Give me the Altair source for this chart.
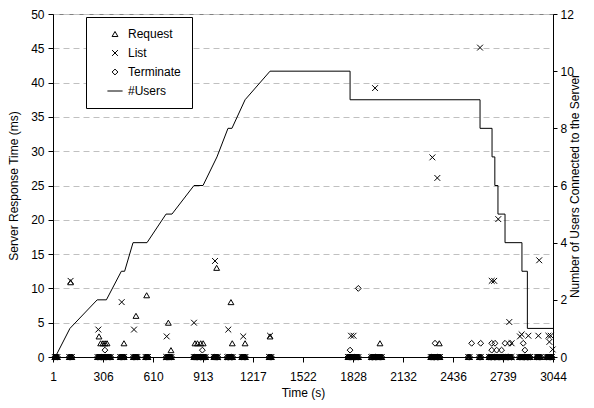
import altair as alt
import pandas as pd

FONT = "Liberation Sans"

# x axis tick labels
x_ticks = [1, 306, 610, 913, 1217, 1522, 1828, 2132, 2436, 2739, 3044]

# response times that sit on the zero line (all three request types)
zero_t = [12, 20, 28, 100, 108, 116, 272, 280, 288, 296, 304, 312, 320, 328,
          336, 344, 352, 410, 418, 426, 434, 490, 498, 506, 514, 565, 572,
          579, 690, 698, 706, 714, 722, 858, 866, 874, 882, 890, 898, 906,
          914, 922, 930, 980, 988, 996, 1004, 1062, 1070, 1078, 1086, 1094,
          1150, 1158, 1166, 1172, 1316, 1324, 1330, 1796, 1804, 1812, 1820,
          1828, 1836, 1844, 1852, 1860, 1938, 1946, 1954, 1962, 1970, 1978,
          1986, 1994, 2002, 2300, 2308, 2316, 2324, 2332, 2340, 2348, 2356,
          2528, 2536, 2596, 2604, 2655, 2663, 2671, 2679, 2687, 2695, 2703,
          2711, 2719, 2727, 2735, 2743, 2751, 2759, 2767, 2775, 2783, 2791,
          2840, 2848, 2856, 2864, 2872, 2880, 2888, 2896, 2904, 2945, 2953,
          2961, 2969, 3005, 3013, 3021, 3029, 3037]

# Request (ms)
req_t = [108, 281, 291, 305, 318, 330, 433, 506, 571, 703, 719, 865, 880,
         900, 915, 997, 1084, 1092, 1170, 1322, 1991, 2352]
req_v = [10.9, 3, 2, 2, 2, 2, 2, 6, 9, 5, 1, 2, 2, 2, 2, 13, 8, 2, 2, 3, 2, 2]

# List (ms)
list_t = [108, 277, 419, 494, 693, 859, 987, 1068, 1159, 1322, 1815, 1830,
          1961, 2310, 2340, 2600, 2671, 2686, 2711, 2778, 2792, 2843, 2853,
          2894, 2955, 2960, 3016, 3030, 3022, 3042]
list_v = [11.1, 4, 8, 4, 3, 5, 14, 4, 3, 3.1, 3.1, 3.1, 39.2, 29.1, 26.1, 45.1,
          11.1, 11.1, 20.1, 5.1, 2, 3, 3.3, 3.1, 3.1, 14.1, 3.1, 3.1, 2.2, 1.1]

# Terminate (ms)
term_t = [317, 910, 1809, 1859, 2326, 2549, 2604, 2671, 2691, 2671, 2701,
          2731, 2752, 2782, 2863, 2873]
term_v = [1, 1, 1, 10, 2, 2, 2, 2, 2, 1, 1, 1, 2, 2, 2, 1]

# #Users connected to the server
users_t = [15, 104, 270, 326, 417, 437, 488, 573, 689, 725, 859, 914, 999,
           1066, 1090, 1170, 1322, 1809, 1809, 2600, 2600, 2673, 2673, 2690,
           2690, 2709, 2709, 2752, 2752, 2855, 2855, 2888, 2888, 3044]
users_n = [0, 1, 2, 2, 3, 3, 4, 4, 5, 5, 6, 6, 7, 8, 8, 9, 10, 10, 9, 9, 8,
           8, 7, 7, 6, 6, 5, 5, 4, 4, 3, 3, 1, 1]

series_names = ["Request", "List", "Terminate", "#Users"]
series_shapes = ["triangle-up", "M-1,-1L1,1M-1,1L1,-1", "diamond", "M-2.6,0L2.6,0"]

rows = []
for name, ts, vs in [("Request", req_t, req_v), ("List", list_t, list_v),
                     ("Terminate", term_t, term_v)]:
    for t in zero_t:
        rows.append({"t": t, "v": 0, "series": name})
    for t, v in zip(ts, vs):
        rows.append({"t": t, "v": v, "series": name})
pts = pd.DataFrame(rows)

users = pd.DataFrame({"t": users_t, "n": users_n, "i": list(range(len(users_t)))})

xscale = alt.Scale(domain=[1, 3044], nice=False, zero=False)

points = alt.Chart(pts).mark_point(filled=False, color="black", strokeWidth=1,
                                   size=34, opacity=1).encode(
    x=alt.X("t:Q", scale=xscale,
            axis=alt.Axis(values=x_ticks, format="d", title="Time (s)",
                          labelFlush=False, tickSize=5, labelPadding=9,
                          titlePadding=5, grid=False, domainColor="black",
                          tickColor="black")),
    y=alt.Y("v:Q", scale=alt.Scale(domain=[0, 50], nice=False),
            axis=alt.Axis(values=list(range(0, 55, 5)),
                          title="Server Response Time (ms)", grid=True,
                          gridDash=[6, 4], gridColor="#c0c0c0",
                          tickSize=5, labelPadding=4, titlePadding=10,
                          domainColor="black", tickColor="black")),
    shape=alt.Shape("series:N",
                    scale=alt.Scale(domain=series_names, range=series_shapes),
                    legend=alt.Legend(title=None, orient="none", legendX=33,
                                      legendY=3, strokeColor="black",
                                      fillColor="white", padding=11,
                                      symbolSize=34, symbolStrokeColor="black",
                                      symbolStrokeWidth=1,
                                      symbolFillColor="transparent",
                                      symbolOffset=12, labelOffset=7,
                                      labelFontSize=12, labelFont=FONT,
                                      labelColor="black", rowPadding=7,
                                      cornerRadius=0)),
)

line = alt.Chart(users).mark_line(color="black", strokeWidth=1).encode(
    x=alt.X("t:Q", scale=xscale),
    y=alt.Y("n:Q", scale=alt.Scale(domain=[0, 12], nice=False),
            axis=alt.Axis(orient="right", values=list(range(0, 13, 2)),
                          title="Number of Users Connected to the Server",
                          titleAngle=270, grid=False, tickSize=4,
                          labelPadding=3, titlePadding=8,
                          domainColor="black", tickColor="black")),
    order=alt.Order("i:Q"),
)

chart = alt.layer(points, line).resolve_scale(y="independent").properties(
    width=500, height=343,
    autosize=alt.AutoSizeParams(type="none"),
    padding={"left": 45, "top": 6, "right": 33, "bottom": 43},
).configure_axis(
    labelFont=FONT, titleFont=FONT, labelFontSize=12, titleFontSize=12,
    labelColor="black", titleColor="black", titleFontWeight="normal",
).configure_view(stroke="#808080", strokeWidth=1)

chart.save("out.html", embed_options={"renderer": "svg", "actions": False})
